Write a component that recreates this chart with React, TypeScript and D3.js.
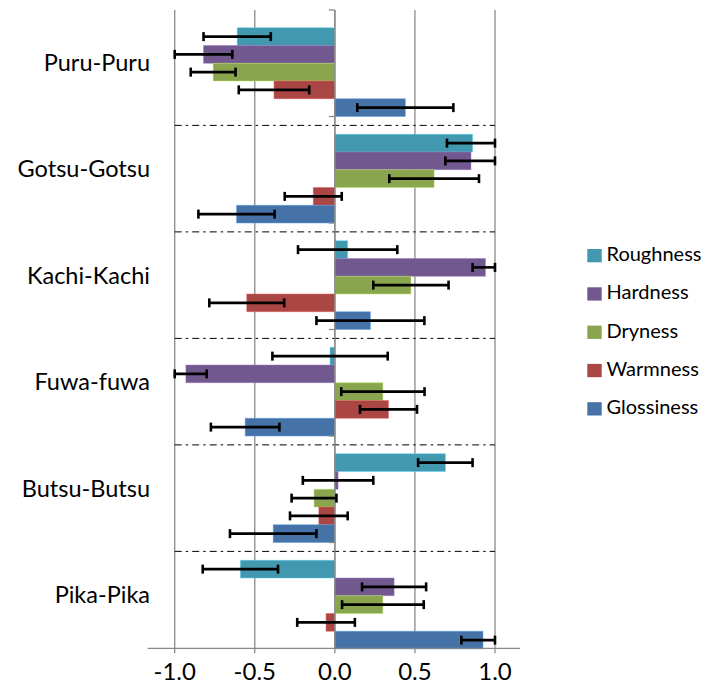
import React from "react";
import * as d3 from "d3";

const categories = ["Puru-Puru", "Gotsu-Gotsu", "Kachi-Kachi", "Fuwa-fuwa", "Butsu-Butsu", "Pika-Pika"];
const seriesNames = ["Roughness", "Hardness", "Dryness", "Warmness", "Glossiness"];
const seriesColors = ["#4198AF", "#71588F", "#89A54E", "#AA4643", "#4572A7"];

const roughness = [-0.61, 0.86, 0.08, -0.03, 0.69, -0.59];
const roughnessErr = [0.21, 0.16, 0.31, 0.36, 0.17, 0.235];
const hardness = [-0.82, 0.85, 0.94, -0.93, 0.02, 0.37];
const hardnessErr = [0.18, 0.16, 0.08, 0.13, 0.22, 0.2];
const dryness = [-0.76, 0.62, 0.475, 0.3, -0.13, 0.3];
const drynessErr = [0.14, 0.28, 0.235, 0.26, 0.14, 0.255];
const warmness = [-0.38, -0.135, -0.55, 0.335, -0.1, -0.055];
const warmnessErr = [0.22, 0.178, 0.234, 0.178, 0.18, 0.18];
const glossiness = [0.44, -0.614, 0.222, -0.56, -0.385, 0.925];
const glossinessErr = [0.3, 0.238, 0.337, 0.214, 0.27, 0.135];

const xTicks = [-1.0, -0.5, 0.0, 0.5, 1.0];
const xTickLabels = ["-1.0", "-0.5", "0.0", "0.5", "1.0"];

const seriesValues = [roughness, hardness, dryness, warmness, glossiness];
const seriesErrors = [roughnessErr, hardnessErr, drynessErr, warmnessErr, glossinessErr];

const FONT = "Lato, 'Open Sans', sans-serif";

export default function App() {
  const W = 704;
  const H = 685;
  const x = d3.scaleLinear().domain([-1, 1]).range([174.7, 495]);
  const y = d3.scaleBand<string>().domain(categories).range([10, 649]).paddingInner(0).paddingOuter(0);
  const slot = d3
    .scaleBand<string>()
    .domain(["_sep", ...seriesNames])
    .range([0, y.bandwidth()])
    .padding(0);
  const x0 = x(0);
  const axisY = y.range()[1] - 0.7;
  const top = y.range()[0];
  const gridColor = "#8a8a8a";

  return (
    <svg
      width={W}
      height={H}
      style={{ position: "absolute", left: 0, top: 0, background: "#fff" }}
      fontFamily={FONT}
    >
      {xTicks.map((t) => (
        <line key={"g" + t} x1={x(t)} x2={x(t)} y1={top} y2={axisY + 5} stroke={gridColor} strokeWidth={1.3} />
      ))}
      {categories.slice(1).map((c) => {
        const yy = (y(c) as number) + (slot("_sep") as number) + slot.bandwidth() / 2;
        return (
          <line
            key={"s" + c}
            x1={x(-1)}
            x2={x(1)}
            y1={yy}
            y2={yy}
            stroke="#000"
            strokeWidth={1}
            strokeDasharray="7,4,2.5,4"
          />
        );
      })}
      {categories.map((c, ci) => (
        <g key={"c" + c}>
          {seriesNames.map((s, si) => {
            const v = seriesValues[si][ci];
            const by = (y(c) as number) + (slot(s) as number);
            const bh = slot.bandwidth();
            const xa = Math.min(x(0), x(v));
            const xb = Math.max(x(0), x(v));
            const col = seriesColors[si];
            return (
              <rect
                key={s}
                x={xa}
                y={by}
                width={xb - xa}
                height={bh}
                fill={col}
                stroke={d3.color(col)!.brighter(0.9).formatHex()}
                strokeOpacity={0.6}
                strokeWidth={0.8}
              />
            );
          })}
        </g>
      ))}
      <line x1={x0} x2={x0} y1={top} y2={axisY} stroke={gridColor} strokeWidth={1.3} />
      {categories.map((c) => (
        <line
          key={"t" + c}
          x1={x0 - 6}
          x2={x0}
          y1={y(c) as number}
          y2={y(c) as number}
          stroke={gridColor}
          strokeWidth={1.3}
        />
      ))}
      {categories.map((c, ci) => (
        <g key={"e" + c}>
          {seriesNames.map((s, si) => {
            const v = seriesValues[si][ci];
            const e = seriesErrors[si][ci];
            const lo = Math.max(-1, v - e);
            const hi = Math.min(1, v + e);
            const cy = (y(c) as number) + (slot(s) as number) + slot.bandwidth() / 2;
            return (
              <g key={s} stroke="#000" strokeWidth={2.6}>
                <line x1={x(lo)} x2={x(hi)} y1={cy} y2={cy} />
                <line x1={x(lo)} x2={x(lo)} y1={cy - 4.5} y2={cy + 4.5} />
                <line x1={x(hi)} x2={x(hi)} y1={cy - 4.5} y2={cy + 4.5} />
              </g>
            );
          })}
        </g>
      ))}
      <line x1={x(-1) - 27} x2={x(1) + 25} y1={axisY} y2={axisY} stroke={gridColor} strokeWidth={1.3} />
      {xTicks.map((t, i) => (
        <text key={"xl" + t} x={x(t)} y={680} textAnchor="middle" fontSize={24} fill="#000">
          {xTickLabels[i]}
        </text>
      ))}
      {categories.map((c) => (
        <text
          key={"cl" + c}
          x={150}
          y={(y(c) as number) + y.bandwidth() / 2 + 7.5}
          textAnchor="end"
          fontSize={23.5}
          fill="#000"
        >
          {c}
        </text>
      ))}
      {seriesNames.map((s, si) => {
        const ly = 249 + si * 38.3;
        return (
          <g key={"lg" + s}>
            <rect x={587.3} y={ly} width={14.4} height={13.3} fill={seriesColors[si]} />
            <text x={606.5} y={ly + 12} fontSize={20} fill="#000">
              {s}
            </text>
          </g>
        );
      })}
    </svg>
  );
}
